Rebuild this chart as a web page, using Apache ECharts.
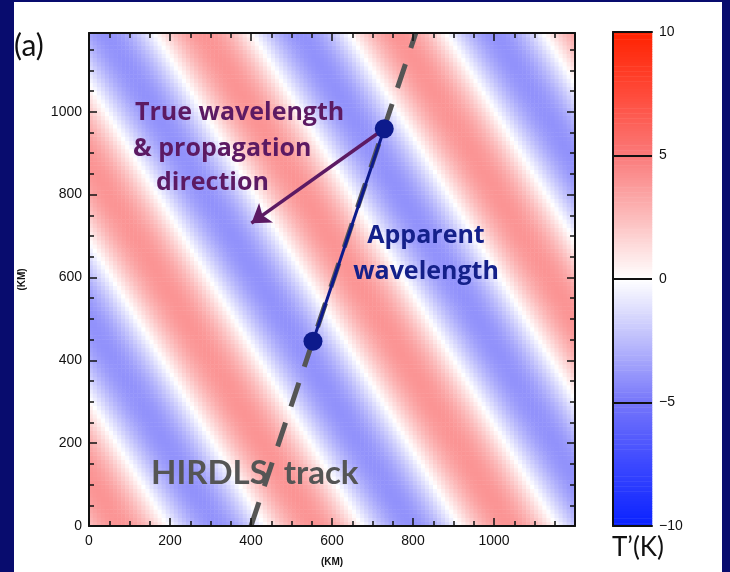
<!DOCTYPE html>
<html>
<head>
<meta charset="utf-8">
<script src="https://cdn.jsdelivr.net/npm/echarts@6/dist/echarts.min.js"></script>
<style>
    html, body { margin: 0; padding: 0; background: #080c6e; }
    #wave-map { width: 730px; height: 572px; }
</style>
</head>
<body>
<div id="wave-map"></div>
<script>
// =============================== //
//
// Render gravity wave T' map
//
// =============================== //

// Wave field (km, K)
const waveAmp = 4;       // peak T' of the stripes
const waveLx = 480;      // red crest to red crest along the x axis
const waveLy = 760;      // red crest to red crest along the y axis
const crestX0 = 75;      // red crest position on the bottom axis
const cellKm = 10;       // size of one map cell
const mapMaxX = 1200;
const mapMaxY = 1190;

// Satellite track and the two wavelengths (km)
const trackX = [400, 807];
const trackY = [0, 1190];
const apparentX = [553, 729];
const apparentY = [446, 959];
const trueFrom = [729, 959];
const trueTo = [401, 731];

// Axis tick labels
const mapTicks = [0, 200, 400, 600, 800, 1000];
const cbMin = -10;
const cbMax = 10;
const cbTicks = [-10, -5, 0, 5, 10];
const cbColours = ["#0a22ff", "#3c48ff", "#7676fa", "#bcbcfc", "#ffffff", "#fcbcbc", "#fa7a7a", "#ff4a3a", "#ff2200"];

// ------------------- //
// Build heatmap cells
// ------------------- //
const xCells = [];
const yCells = [];
for (let x = cellKm / 2; x < mapMaxX; x += cellKm) xCells.push(x);
for (let y = cellKm / 2; y < mapMaxY; y += cellKm) yCells.push(y);

let waveCells = [];
xCells.forEach((x, i) => {
    yCells.forEach((y, j) => {
        const phase = (x - crestX0) / waveLx + y / waveLy;
        waveCells.push([i, j, +(waveAmp * Math.cos(2 * Math.PI * phase)).toFixed(2)]);
    });
});

// colour bar column
const cbCells = [];
const cbRows = [];
for (let k = 0; k < 200; k++) {
    const v = cbMin + (k + 0.5) * (cbMax - cbMin) / 200;
    cbRows.push(v);
    cbCells.push([0, k, v]);
}

const tickFont = { color: "#111", fontSize: 14, fontFamily: "Liberation Sans" };
const mapLabel = v => mapTicks.includes(v) ? String(v) : "";

// Shared look of the map frame axes
function frameAxis(extra) {
    return Object.assign({
        type: "value", gridIndex: 0, interval: 200, z: 70,
        axisLine: { onZero: false, lineStyle: { color: "#111", width: 2 } },
        axisTick: { inside: true, length: 8, lineStyle: { color: "#111", width: 1.5 } },
        minorTick: { show: true, splitNumber: 4, length: 5, lineStyle: { color: "#111", width: 1.5 } },
        axisLabel: { show: false },
        splitLine: { show: false }
    }, extra);
}

// Select element from DOM and initiate echarts
const chart = echarts.init(document.getElementById("wave-map"));

let option = {
    animation: false,
    backgroundColor: "#080c6e",

    // GRIDS: map and colour bar
    grid: [
        { left: 89, top: 33, width: 486, height: 493 },
        { left: 613, top: 32, width: 39, height: 494 }
    ],

    // COLOURS
    visualMap: {
        type: "continuous",
        show: false,
        min: cbMin,
        max: cbMax,
        seriesIndex: [0, 1],
        inRange: { color: cbColours }
    },

    // XAXIS
    xAxis: [
        { type: "category", gridIndex: 0, data: xCells, show: false },
        frameAxis({
            position: "bottom", min: 0, max: mapMaxX,
            name: "(KM)", nameLocation: "middle", nameGap: 31,
            nameTextStyle: { color: "#111", fontSize: 10, fontWeight: "bold", fontFamily: "Liberation Sans" },
            axisLabel: Object.assign({ margin: 8, formatter: mapLabel }, tickFont)
        }),
        frameAxis({ position: "top", min: 0, max: mapMaxX }),
        {
            type: "category", gridIndex: 1, position: "bottom", data: [""], z: 70,
            axisLine: { onZero: false, lineStyle: { color: "#111", width: 2 } },
            axisTick: { show: false }, axisLabel: { show: false }
        },
        {
            type: "category", gridIndex: 1, position: "top", data: [""], z: 70,
            axisLine: { onZero: false, lineStyle: { color: "#111", width: 2 } },
            axisTick: { show: false }, axisLabel: { show: false }
        }
    ],

    // YAXIS
    yAxis: [
        { type: "category", gridIndex: 0, data: yCells, show: false },
        frameAxis({
            position: "left", min: 0, max: mapMaxY,
            name: "(KM)", nameLocation: "middle", nameGap: 62, nameRotate: 90,
            nameTextStyle: { color: "#111", fontSize: 10, fontWeight: "bold", fontFamily: "Liberation Sans" },
            axisLabel: Object.assign({ margin: 7, formatter: mapLabel }, tickFont)
        }),
        frameAxis({ position: "right", min: 0, max: mapMaxY }),
        {
            type: "category", gridIndex: 1, position: "left", data: cbRows, z: 70,
            axisLine: { onZero: false, lineStyle: { color: "#111", width: 2 } },
            axisTick: { show: false }, axisLabel: { show: false }
        },
        {
            type: "value", gridIndex: 1, position: "right", min: cbMin, max: cbMax, interval: 5, z: 70,
            axisLine: { onZero: false, lineStyle: { color: "#111", width: 2 } },
            axisTick: { show: false },
            axisLabel: Object.assign({
                margin: 7,
                formatter: v => cbTicks.includes(v) ? String(v).replace("-", "\u2212") : ""
            }, tickFont),
            splitLine: { show: true, lineStyle: { color: "#111", width: 2 } }
        }
    ],

    // TEXT + PANEL
    graphic: [
        { type: "rect", z: -10, shape: { x: 14, y: 2, width: 708, height: 570 }, style: { fill: "#fff" } },
        { type: "text", z: 50, style: { x: 14, y: 46, text: "(a)", font: "30px Lato", fill: "#111", textVerticalAlign: "middle" } },
        { type: "text", z: 50, style: { x: 135, y: 113, text: "True wavelength", font: "bold 25px 'Open Sans'", fill: "#5c1a63", textVerticalAlign: "middle" } },
        { type: "text", z: 50, style: { x: 133, y: 149, text: "& propagation", font: "bold 25px 'Open Sans'", fill: "#5c1a63", textVerticalAlign: "middle" } },
        { type: "text", z: 50, style: { x: 156, y: 183, text: "direction", font: "bold 25px 'Open Sans'", fill: "#5c1a63", textVerticalAlign: "middle" } },
        { type: "text", z: 50, style: { x: 426, y: 236, text: "Apparent", font: "bold 25px 'Open Sans'", fill: "#14208a", textAlign: "center", textVerticalAlign: "middle" } },
        { type: "text", z: 50, style: { x: 426, y: 272, text: "wavelength", font: "bold 25px 'Open Sans'", fill: "#14208a", textAlign: "center", textVerticalAlign: "middle" } },
        { type: "text", z: 50, style: { x: 151, y: 473, text: "HIRDLS  track", font: "bold 33px Lato", fill: "#555", textVerticalAlign: "middle" } },
        { type: "text", z: 50, style: { x: 612, y: 548, text: "T\u2019(K)", font: "26px Lato", fill: "#111", textVerticalAlign: "middle" } }
    ],

    // SERIES
    series: [
        {
            type: "heatmap", xAxisIndex: 0, yAxisIndex: 0, data: waveCells,
            progressive: 0, emphasis: { disabled: true }
        },
        {
            type: "heatmap", xAxisIndex: 3, yAxisIndex: 3, data: cbCells,
            progressive: 0, emphasis: { disabled: true }
        },
        {
            name: "HIRDLS track", type: "line", xAxisIndex: 1, yAxisIndex: 1, z: 60,
            data: trackX.map((x, i) => [x, trackY[i]]),
            showSymbol: false, silent: true,
            lineStyle: { color: "#555", width: 5, type: [25, 17] }
        },
        {
            name: "Apparent wavelength", type: "line", xAxisIndex: 1, yAxisIndex: 1, z: 61,
            data: apparentX.map((x, i) => [x, apparentY[i]]),
            showSymbol: false, silent: true,
            lineStyle: { color: "#0d1a8c", width: 3 }
        },
        {
            name: "True wavelength", type: "lines", coordinateSystem: "cartesian2d", xAxisIndex: 1, yAxisIndex: 1, z: 62,
            data: [{ coords: [trueFrom, trueTo] }],
            symbol: ["none", "arrow"], symbolSize: 18, silent: true,
            lineStyle: { color: "#5c1a63", width: 3.5, opacity: 1 }
        },
        {
            type: "scatter", xAxisIndex: 1, yAxisIndex: 1, z: 63,
            data: apparentX.map((x, i) => [x, apparentY[i]]),
            symbolSize: 19, silent: true,
            itemStyle: { color: "#0d1a8c", opacity: 1 }
        }
    ]
};

chart.setOption(option);
</script>
</body>
</html>
